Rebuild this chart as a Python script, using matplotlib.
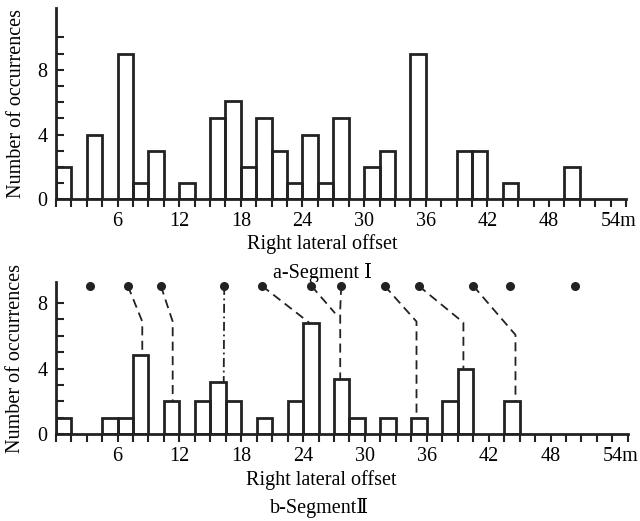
import numpy as np
from matplotlib import pyplot as plt
from matplotlib.ticker import MultipleLocator, FixedLocator
from matplotlib.transforms import ScaledTranslation

# segment I histogram (bin left edge in m, count)
top_left = [0, 3, 6, 7.5, 9, 12, 15, 16.5, 18, 19.5, 21, 22.5, 24, 25.5, 27,
            30, 31.5, 34.5, 39, 40.5, 43.5, 49.5]
top_count = [2, 4, 9, 1, 3, 1, 5, 6.1, 2, 5, 3, 1, 4, 1, 5, 2, 3, 9, 3, 3, 1, 2]

# segment II histogram
bot_left = [0, 4.5, 6, 7.5, 10.5, 13.5, 15, 16.5, 19.5, 22.5, 24, 27, 28.5,
            31.5, 34.5, 37.5, 39, 43.5]
bot_count = [1, 1, 1, 4.85, 2, 2, 3.2, 2, 1, 2, 6.8, 3.35, 1, 1, 1, 2, 4, 2]

# segment I offsets shown as dots above segment II
dot_x = [3.3, 7.0, 10.2, 16.35, 20.0, 24.8, 27.7, 31.9, 35.2, 40.5, 44.1, 50.4]
dot_y = 9.05

# correlation lines: (x points, y points, style)
links = [
    ([7.0, 8.4, 8.4], [9.05, 6.87, 4.85], '--'),
    ([10.2, 11.35, 11.35], [9.05, 6.87, 2.0], '--'),
    ([16.35, 16.3], [9.05, 3.2], '-.'),
    ([20.0, 24.6], [9.05, 6.8], '--'),
    ([24.8, 27.1], [9.05, 7.38], '--'),
    ([27.7, 27.6, 27.6], [9.05, 7.6, 3.35], '--'),
    ([31.9, 35.0, 35.0], [9.05, 6.87, 1.0], '--'),
    ([35.2, 39.55, 39.55], [9.05, 6.81, 4.0], '--'),
    ([40.5, 44.6, 44.6], [9.05, 6.06, 2.0], '--'),
]

xtick_labels = ['6', '12', '18', '24', '30', '36', '42', '48', '54m']

ink = '#222222'
fs = 14.5
serif = ['Liberation Serif', 'DejaVu Serif', 'Noto Sans CJK SC']
plt.rcParams['font.family'] = serif
plt.rcParams['font.size'] = fs

fig = plt.figure(figsize=(6.4, 5.21), dpi=100)
ax1 = fig.add_axes([0.0875, 0.6175, 0.8906, 0.3666])
ax2 = fig.add_axes([0.087, 0.1664, 0.894, 0.2929])


def style_axis(ax, ytop, ymax_tick):
    ax.set_xlim(0, 55.5)
    ax.set_ylim(0, ytop)
    for s in ['top', 'right']:
        ax.spines[s].set_visible(False)
    for s in ['left', 'bottom']:
        ax.spines[s].set_linewidth(2)
        ax.spines[s].set_color(ink)
    ax.xaxis.set_major_locator(FixedLocator(np.arange(6, 55, 6)))
    ax.set_xticklabels(xtick_labels)
    ax.xaxis.set_minor_locator(MultipleLocator(1.5))
    ax.tick_params(axis='x', which='both', direction='out', length=6,
                   width=1.5, color=ink, pad=3, labelsize=fs)
    ax.yaxis.set_major_locator(FixedLocator([0, 4, 8]))
    ax.yaxis.set_minor_locator(FixedLocator(np.arange(0, ymax_tick + 1)))
    ax.tick_params(axis='y', which='both', direction='in', length=6,
                   width=1.5, color=ink, pad=6, labelsize=fs)
    last = ax.get_xticklabels()[-1]
    last.set_horizontalalignment('left')
    last.set_transform(last.get_transform() + ScaledTranslation(-0.1, 0, fig.dpi_scale_trans))
    ax.set_ylabel('Number of occurrences', fontsize=fs)
    ax.yaxis.set_label_coords(-0.053, 0.5)


ax1.bar(top_left, top_count, width=1.5, align='edge', fill=False,
        edgecolor=ink, linewidth=2)
style_axis(ax1, 11.8, 10)
ax1.text(0.467, -0.235, 'Right lateral offset', transform=ax1.transAxes,
         ha='center', va='center', fontsize=fs)
ax1.text(0.467, -0.385, 'a-Segment Ⅰ', transform=ax1.transAxes,
         ha='center', va='center', fontsize=fs)

ax2.bar(bot_left, bot_count, width=1.5, align='edge', fill=False,
        edgecolor=ink, linewidth=2)
for xs, ys, ls in links:
    ax2.plot(xs, ys, color=ink, linestyle=ls, linewidth=1.3,
             dashes=(5, 3) if ls == '--' else (5, 2, 1, 2))
ax2.plot(dot_x, [dot_y] * len(dot_x), 'o', color=ink, markersize=5.5, clip_on=False)
style_axis(ax2, 9.3, 8)
ax2.text(0.465, -0.3, 'Right lateral offset', transform=ax2.transAxes,
         ha='center', va='center', fontsize=fs)
ax2.text(0.461, -0.485, 'b-SegmentⅡ', transform=ax2.transAxes,
         ha='center', va='center', fontsize=fs)

fig.savefig('out.png', dpi=100)
